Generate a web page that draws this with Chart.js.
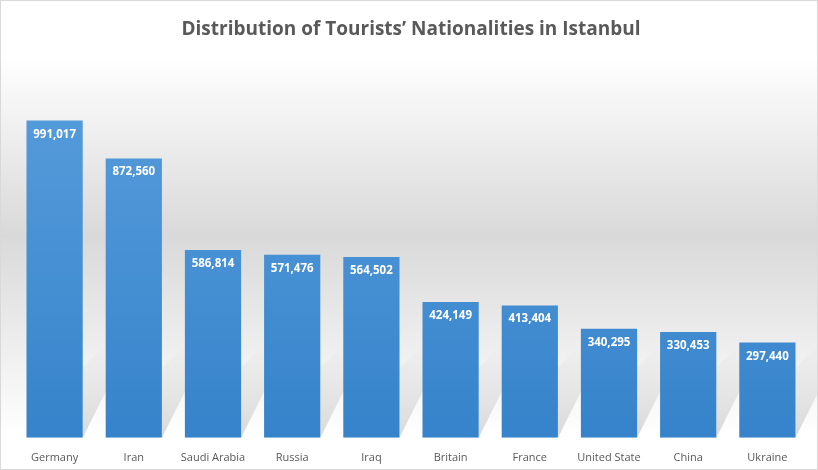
<!DOCTYPE html>
<html><head><meta charset="utf-8">
<script src="https://cdn.jsdelivr.net/npm/chart.js@4"></script>
<style>html,body{margin:0;padding:0;background:#fff}#w{width:816px;height:468px;border:1px solid #d9d9d9;}</style>
</head><body><div id="w"><canvas id="c" width="816" height="468"></canvas></div>
<script>
const categories=["Germany","Iran","Saudi Arabia","Russia","Iraq","Britain","France","United State","China","Ukraine"];
const visitors=[991017,872560,586814,571476,564502,424149,413404,340295,330453,297440];
const bg={id:'bg',beforeDraw(c){const x=c.ctx,w=c.width,h=c.height;const g=x.createLinearGradient(0,0,0,h);
g.addColorStop(0,'#ffffff');g.addColorStop(0.12,'#ffffff');g.addColorStop(0.5,'#d9d9d9');g.addColorStop(0.93,'#ffffff');g.addColorStop(1,'#ffffff');
x.save();x.fillStyle=g;x.fillRect(0,0,w,h);
const m=c.getDatasetMeta(0);
m.data.forEach(b=>{const l=b.x+b.width/2, bt=b.base, t=Math.max(b.y,bt-90);
x.beginPath();x.moveTo(l,bt);x.lineTo(l,t+20);x.lineTo(l+30,t-10);x.lineTo(l+30,bt-60);x.closePath();
const sg=x.createLinearGradient(0,bt,0,t);sg.addColorStop(0,'rgba(160,160,160,0.4)');sg.addColorStop(1,'rgba(160,160,160,0)');
x.fillStyle=sg;x.fill();});
x.restore();}};
const lbl={id:'lbl',afterDatasetsDraw(c){const x=c.ctx;x.save();x.font='bold 11.5px "Open Sans", sans-serif';x.fillStyle='#fff';x.textAlign='center';x.textBaseline='top';
c.getDatasetMeta(0).data.forEach((b,i)=>{x.fillText(visitors[i].toLocaleString('en-US'),b.x,b.y+8);});x.restore();}};
new Chart(document.getElementById('c'),{type:'bar',
data:{labels:categories,datasets:[{data:visitors,
backgroundColor:(ctx)=>{const a=ctx.chart.chartArea;if(!a)return '#3a86cc';const g=ctx.chart.ctx.createLinearGradient(0,a.top,0,a.bottom);g.addColorStop(0,'#5a9fdd');g.addColorStop(1,'#3683cb');return g;},
categoryPercentage:1,barPercentage:0.71}]},
options:{responsive:false,animation:false,devicePixelRatio:1,
layout:{padding:{left:14,right:10,top:0,bottom:0}},
plugins:{legend:{display:false},tooltip:{enabled:false},
title:{display:true,text:'Distribution of Tourists’ Nationalities in Istanbul',color:'#595959',font:{family:'"Open Sans", sans-serif',size:19,weight:'bold'},padding:{top:17,bottom:16}}},
scales:{x:{grid:{display:false},border:{display:false},ticks:{color:'#595959',font:{family:'"Open Sans", sans-serif',size:11},padding:5}},
y:{display:false,min:0,max:1190000}}},
plugins:[bg,lbl]});
</script></body></html>
